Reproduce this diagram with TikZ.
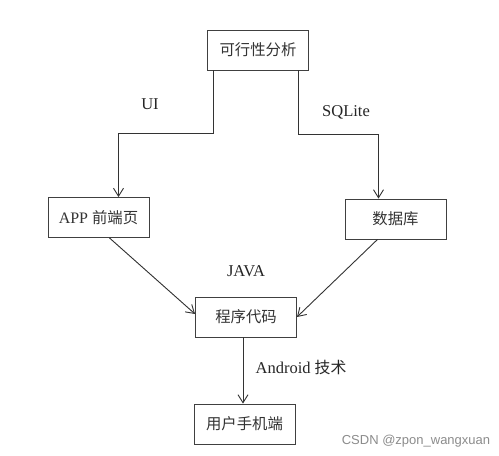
\documentclass[tikz,border=0pt]{standalone}
\usepackage{fontspec}
\setmainfont{Liberation Serif}
\newfontfamily\cjk{Noto Sans CJK SC}[Scale=0.96]
\newfontfamily\wm{Liberation Sans}
\usetikzlibrary{arrows.meta}
\begin{document}
\begin{tikzpicture}[x=1pt,y=-1pt,
  box/.style={draw=black!75,line width=0.9pt,minimum width=101pt,minimum height=40pt,inner sep=0pt,font=\fontsize{16}{18}\selectfont,text=black!80},
  conn/.style={draw=black!80,line width=0.9pt},
  arr/.style={conn,-{Straight Barb[length=8pt,width=10pt,line width=0.9pt]}},
  lbl/.style={font=\fontsize{16.5}{18}\selectfont,text=black!85}]
\useasboundingbox[fill=white] (0,0) rectangle (499,456);
\node[box] (top) at (258,50) {\cjk 可行性分析};
\node[box] (app) at (98.5,217.5) {APP {\cjk 前端页}};
\node[box] (db) at (395.5,219) {\cjk 数据库};
\node[box] (code) at (246,317) {\cjk 程序代码};
\node[box] (user) at (244.5,424) {\cjk 用户手机端};
\draw[arr] ([xshift=-45pt]top.south) -- ++(0,63) -| ([xshift=20pt]app.north);
\draw[arr] ([xshift=40pt]top.south) -- ++(0,64) -| ([xshift=-17pt]db.north);
\draw[arr] ([xshift=11pt]app.south) -- ([yshift=3pt]code.west);
\draw[arr] ([xshift=-18pt]db.south) -- (code.east);
\draw[arr] ([xshift=-3pt]code.south) -- ([xshift=-1.5pt]user.north);
\node[lbl] (ui) at (150,104) {UI};
\node[lbl] (sql) at (346,112) {SQLite};
\node[lbl] (java) at (246,271) {JAVA};
\node[lbl] (andr) at (301,367) {Android {\cjk 技术}};
\node[font=\wm\fontsize{13}{15}\selectfont,text=black!45] (wmk) at (416,441) {CSDN @zpon\_wangxuan};
\end{tikzpicture}
\end{document}
